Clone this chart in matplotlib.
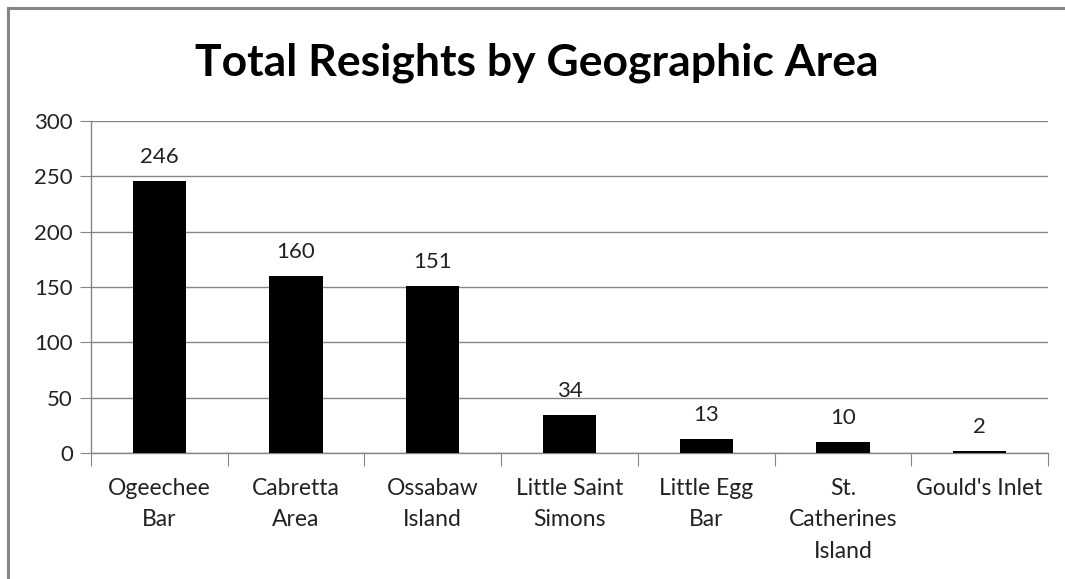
import matplotlib
matplotlib.use("Agg")
import matplotlib.pyplot as plt
from matplotlib.lines import Line2D

categories = ["Ogeechee\nBar", "Cabretta\nArea", "Ossabaw\nIsland", "Little Saint\nSimons",
              "Little Egg\nBar", "St.\nCatherines\nIsland", "Gould's Inlet"]
values = [246, 160, 151, 34, 13, 10, 2]
yticks = [0, 50, 100, 150, 200, 250, 300]
title = "Total Resights by Geographic Area"

plt.rcParams['font.family'] = ['Lato', 'DejaVu Sans']

W, H = 1065, 579
fig = plt.figure(figsize=(W / 100, H / 100), dpi=100)
fig.patch.set_facecolor("white")

# outer chart border (left and top visible)
fig.add_artist(Line2D([8 / W, 8 / W], [0, 1 - 8 / H], color="#868686", lw=2.2, transform=fig.transFigure))
fig.add_artist(Line2D([8 / W, 1], [1 - 8 / H, 1 - 8 / H], color="#868686", lw=2.2, transform=fig.transFigure))

left, right = 91 / W, 1048 / W
bottom, top = 1 - 453 / H, 1 - 121 / H
ax = fig.add_axes([left, bottom, right - left, top - bottom])

n = len(categories)
x = list(range(n))
ax.bar(x, values, width=0.39, color="black", zorder=3)
ax.set_xlim(-0.5, n - 0.5)
ax.set_ylim(0, 300)
ax.set_yticks(yticks)
ax.set_yticklabels([str(t) for t in yticks], fontsize=16, color="#222222")
ax.yaxis.grid(True, color="#868686", lw=1.0, zorder=0)
ax.tick_params(axis="y", length=8, color="#868686", pad=5)

ax.set_xticks([i - 0.5 for i in range(n + 1)])
ax.set_xticklabels([""] * (n + 1))
ax.tick_params(axis="x", length=9, color="#868686", direction="out")
for i, c in enumerate(categories):
    ax.text(i, -0.075, c, transform=ax.get_xaxis_transform(), ha="center", va="top",
            fontsize=16.5, color="#222222", linespacing=1.62)

for s in ["top", "right"]:
    ax.spines[s].set_visible(False)
for s in ["left", "bottom"]:
    ax.spines[s].set_color("#868686")
    ax.spines[s].set_linewidth(1.0)

for i, v in enumerate(values):
    ax.annotate(str(v), (i, v), xytext=(0, 10), textcoords="offset points",
                ha="center", va="bottom", fontsize=16, color="#222222")

fig.text(537 / W, 1 - 63 / H, title, ha="center", va="center", fontsize=32,
         fontweight="bold", color="black")

fig.savefig("out.png", dpi=100, facecolor="white")
